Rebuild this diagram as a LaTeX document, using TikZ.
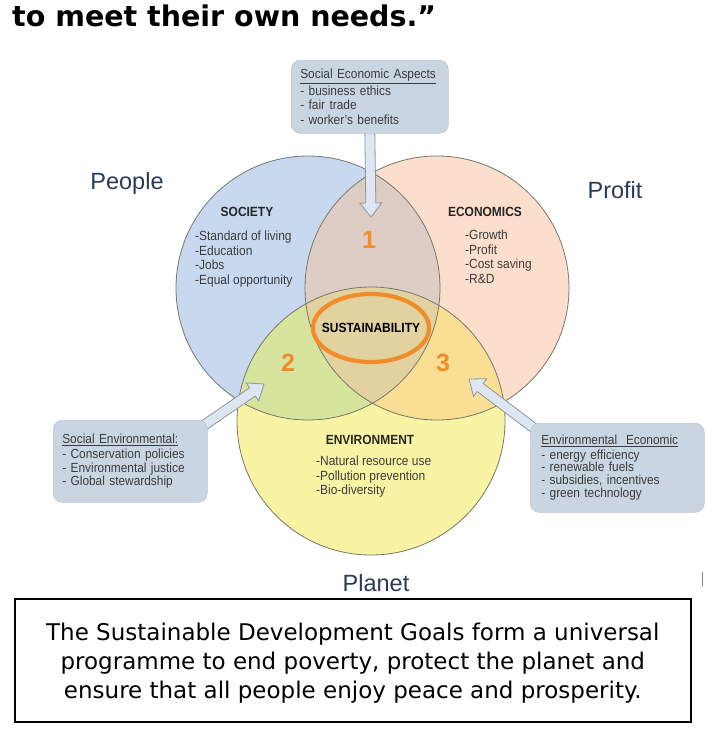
\documentclass[tikz,border=0pt]{standalone}
\usepackage{fontspec}
\setmainfont{Liberation Sans}[FakeStretch=0.9]
\newfontfamily\plainsans{Liberation Sans}
\newfontfamily\comicfont{DejaVu Sans}
\usetikzlibrary{calc,shapes.geometric}
\definecolor{cblue}{HTML}{C8D8EF}
\definecolor{cpeach}{HTML}{FCDECD}
\definecolor{cyellow}{HTML}{F8F4A4}
\definecolor{conea}{HTML}{DDCDC4}
\definecolor{ctwo}{HTML}{D6E49E}
\definecolor{cthree}{HTML}{FADE94}
\definecolor{ccenter}{HTML}{E2D29F}
\definecolor{cedge}{HTML}{76766A}
\definecolor{corange}{HTML}{F28C28}
\definecolor{cbox}{HTML}{CAD5E2}
\definecolor{cboxedge}{HTML}{BCC8D6}
\definecolor{carrfill}{HTML}{DEE6F2}
\definecolor{carredge}{HTML}{8E949E}
\definecolor{clabel}{HTML}{2C3A58}
\definecolor{ctext}{HTML}{3C3C3C}
\pgfdeclarelayer{bg}
\pgfdeclarelayer{arr}
\pgfsetlayers{bg,arr,main}
\newcommand\blkarr[3]{%
  \coordinate (#3h) at ($(#2)!14pt!(#1)$);
  \draw[blockarrow] ($(#1)!5pt!90:(#2)$) -- ($(#3h)!5pt!90:(#2)$) -- ($(#3h)!11pt!90:(#2)$) -- (#2) -- ($(#3h)!11pt!-90:(#2)$) -- ($(#3h)!5pt!-90:(#2)$) -- ($(#1)!5pt!-90:(#2)$) -- cycle;}
\begin{document}
\begin{tikzpicture}[x=1pt,y=-1pt,
  infobox/.style={fill=cbox, draw=cboxedge, line width=0.6pt, rounded corners=9pt, align=left, anchor=north west, inner xsep=9pt, inner ysep=0pt, text=ctext, font=\fontsize{13.2}{14.2}\selectfont},
  heading/.style={font=\bfseries\fontsize{13.3}{14}\selectfont, text=black!85, inner sep=0},
  items/.style={font=\fontsize{13.3}{14.4}\selectfont, text=ctext, align=left, anchor=north west, inner sep=0},
  biglabel/.style={font=\plainsans\fontsize{23.5}{26}\selectfont, text=clabel, inner sep=0},
  num/.style={font=\plainsans\bfseries\fontsize{25}{28}\selectfont, text=corange, inner sep=0},
  blockarrow/.style={fill=carrfill, draw=carredge, line width=0.8pt, line join=miter},
  venn/.style={draw=cedge, line width=0.8pt}
]
\useasboundingbox (0,0) rectangle (705,732);
\coordinate (B) at (308,288);
\coordinate (P) at (437,288);
\coordinate (Y) at (371,421);
\begin{pgfonlayer}{bg}
\fill[white] (0,0) rectangle (705,732);
\fill[cblue] (B) circle[radius=132pt];
\fill[cpeach] (P) circle[radius=132pt];
\fill[cyellow] (Y) circle[radius=134pt];
\begin{scope}
  \clip (B) circle[radius=132pt];
  \fill[conea] (P) circle[radius=132pt];
  \fill[ctwo] (Y) circle[radius=134pt];
\end{scope}
\begin{scope}
  \clip (P) circle[radius=132pt];
  \fill[cthree] (Y) circle[radius=134pt];
\end{scope}
\begin{scope}
  \clip (B) circle[radius=132pt];
  \clip (P) circle[radius=132pt];
  \fill[ccenter] (Y) circle[radius=134pt];
\end{scope}
\draw[venn] (B) circle[radius=132pt];
\draw[venn] (P) circle[radius=132pt];
\draw[venn] (Y) circle[radius=134pt];
\end{pgfonlayer}

\node[anchor=base west, inner sep=0, font=\comicfont\bfseries\fontsize{28.5}{32}\selectfont] (title) at (12,26) {to meet their own needs.”};

\node[biglabel] (people) at (127,183) {People};
\node[biglabel] (profit) at (615,190) {Profit};
\node[biglabel] (planet) at (376,583) {Planet};

\node[heading] (soc) at (247,212) {SOCIETY};
\node[items] (socl) at (195,231) {-Standard of living\\-Education\\-Jobs\\-Equal opportunity};
\node[heading] (eco) at (485,212) {ECONOMICS};
\node[items] (ecol) at (465,230) {-Growth\\-Profit\\-Cost saving\\-R\&D};
\node[heading] (env) at (370,440) {ENVIRONMENT};
\node[items] (envl) at (316,456) {-Natural resource use\\-Pollution prevention\\-Bio-diversity};

\node[ellipse, draw=corange, line width=4.2pt, minimum width=116pt, minimum height=68pt, inner sep=0, font=\bfseries\fontsize{13.3}{14}\selectfont] (sust) at (371,328) {\makebox[0pt]{SUSTAINABILITY}};

\node[num] (n1) at (369,240) {1};
\node[num] (n2) at (288,363) {2};
\node[num] (n3) at (443,363) {3};

\node[infobox, text width=139pt, minimum height=73pt] (topbox) at (291,60) {\underline{Social Economic Aspects}\\[1.5pt]- business ethics\\- fair trade\\- worker's benefits};
\node[infobox, text width=136pt, minimum height=82pt, font=\fontsize{13.2}{13.5}\selectfont] (leftbox) at (53,420) {\underline{Social Environmental:}\\[1.5pt]- Conservation policies\\- Environmental justice\\- Global stewardship};
\node[infobox, text width=152pt, minimum height=89pt, inner xsep=11pt, font=\fontsize{13.2}{12.9}\selectfont] (rightbox) at (530,423) {\underline{Environmental\ \ Economic}\\[1.5pt]- energy efficiency\\- renewable fuels\\- subsidies, incentives\\- green technology};

\coordinate (a1t) at (371,217);
\coordinate (a2t) at (264,384);
\coordinate (a3t) at (469,379);
\coordinate (a1s) at ($(topbox.south)+(0,-4)$);
\coordinate (a2s) at ($(leftbox.north east)+(-9,9)$);
\coordinate (a3s) at ($(rightbox.north west)+(9,9)$);
\begin{pgfonlayer}{arr}
\blkarr{a1s}{a1t}{ha}
\blkarr{a2s}{a2t}{hb}
\blkarr{a3s}{a3t}{hc}
\end{pgfonlayer}

\node[draw=black, line width=1.6pt, minimum width=676pt, minimum height=123pt, anchor=north west, inner sep=0, align=center, text depth=0pt, font=\comicfont\fontsize{23}{29}\selectfont] (goals) at (14,598) {The Sustainable Development Goals form a universal\\programme to end poverty, protect the planet and\\ensure that all people enjoy peace and prosperity.};

\draw[gray, line width=1pt] (702,572) -- (702,586);
\end{tikzpicture}
\end{document}
